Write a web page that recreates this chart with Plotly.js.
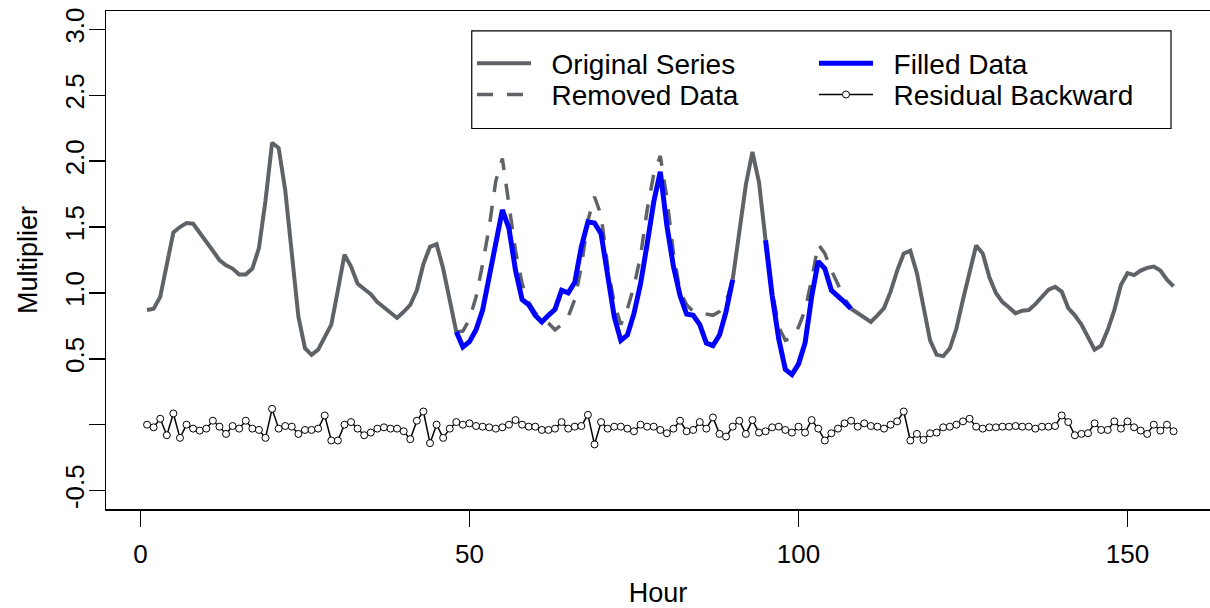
<!DOCTYPE html>
<html>
<head>
<meta charset="utf-8">
<script src="https://cdn.plot.ly/plotly-3.0.1.min.js"></script>
<style>html,body{margin:0;padding:0;background:#fff;}#chart{width:1210px;height:608px;}</style>
</head>
<body>
<div id="chart"></div>
<script>
// Hour index (x categories)
const hours = [1,2,3,4,5,6,7,8,9,10,11,12,13,14,15,16,17,18,19,20,21,22,23,24,25,26,27,28,29,30,
31,32,33,34,35,36,37,38,39,40,41,42,43,44,45,46,47,48,49,50,51,52,53,54,55,56,57,58,59,60,
61,62,63,64,65,66,67,68,69,70,71,72,73,74,75,76,77,78,79,80,81,82,83,84,85,86,87,88,89,90,
91,92,93,94,95,96,97,98,99,100,101,102,103,104,105,106,107,108,109,110,111,112,113,114,115,116,117,118,119,120,
121,122,123,124,125,126,127,128,129,130,131,132,133,134,135,136,137,138,139,140,141,142,143,144,145,146,147,148,149,150,
151,152,153,154,155,156,157];

// Original series (kept part; null where data was removed)
const originalValues = [
0.87,0.88,0.97,1.22,1.46,1.50,1.53,1.525,1.46,1.395,
1.32,1.25,1.21,1.185,1.14,1.14,1.185,1.34,1.70,2.14,
2.10,1.78,1.32,0.82,0.58,0.53,0.57,0.67,0.76,1.02,
1.29,1.20,1.07,1.03,0.99,0.93,0.89,0.85,0.81,0.857,
0.91,1.02,1.22,1.35,1.37,1.185,0.93,0.705,null,null,
null,null,null,null,null,null,null,null,null,null,
null,null,null,null,null,null,null,null,null,null,
null,null,null,null,null,null,null,null,null,null,
null,null,null,null,null,null,null,null,null,1.10,
1.48,1.82,2.07,1.84,1.40,null,null,null,null,null,
null,null,null,null,null,null,null,0.88,0.845,0.81,
0.78,0.83,0.885,1.01,1.17,1.30,1.32,1.15,0.90,0.64,
0.53,0.52,0.58,0.73,0.95,1.17,1.36,1.30,1.12,1.00,
0.93,0.89,0.845,0.865,0.87,0.915,0.965,1.025,1.046,1.01,
0.885,0.83,0.76,0.66,0.57,0.60,0.72,0.87,1.06,1.15,
1.135,1.17,1.19,1.20,1.17,1.10,1.05];

// Removed (true) data in the gaps
const removedValues = [
null,null,null,null,null,null,null,null,null,null,
null,null,null,null,null,null,null,null,null,null,
null,null,null,null,null,null,null,null,null,null,
null,null,null,null,null,null,null,null,null,null,
null,null,null,null,null,null,null,0.705,0.71,0.80,
0.97,1.22,1.50,1.85,2.02,1.67,1.32,1.07,0.93,0.85,
0.80,0.77,0.72,0.76,0.82,0.95,1.20,1.55,1.73,1.59,
1.20,0.92,0.76,0.88,1.05,1.28,1.63,1.90,2.04,1.72,
1.30,1.01,0.91,0.86,0.85,0.84,0.83,0.86,0.93,1.10,
null,null,null,null,1.40,1.02,0.74,0.64,0.66,0.74,
0.87,1.10,1.37,1.30,1.17,1.07,0.96,0.88,null,null,
null,null,null,null,null,null,null,null,null,null,
null,null,null,null,null,null,null,null,null,null,
null,null,null,null,null,null,null,null,null,null,
null,null,null,null,null,null,null,null,null,null,
null,null,null,null,null,null,null];

// Filled (imputed) data in the gaps
const filledValues = [
null,null,null,null,null,null,null,null,null,null,
null,null,null,null,null,null,null,null,null,null,
null,null,null,null,null,null,null,null,null,null,
null,null,null,null,null,null,null,null,null,null,
null,null,null,null,null,null,null,0.705,0.59,0.63,
0.72,0.87,1.12,1.40,1.63,1.49,1.17,0.95,0.91,0.83,
0.78,0.83,0.875,1.02,1.00,1.08,1.35,1.54,1.53,1.45,
1.15,0.82,0.64,0.68,0.845,1.07,1.37,1.69,1.92,1.51,
1.20,0.98,0.84,0.83,0.76,0.62,0.60,0.68,0.86,1.10,
null,null,null,null,1.40,0.98,0.65,0.42,0.38,0.46,
0.62,0.97,1.24,1.185,1.02,0.98,0.93,0.88,null,null,
null,null,null,null,null,null,null,null,null,null,
null,null,null,null,null,null,null,null,null,null,
null,null,null,null,null,null,null,null,null,null,
null,null,null,null,null,null,null,null,null,null,
null,null,null,null,null,null,null];

// Residual backward
const residualValues = [
0.0,-0.02,0.045,-0.08,0.085,-0.10,0.0,-0.03,-0.045,-0.03,
0.03,-0.015,-0.07,-0.01,-0.03,0.03,-0.03,-0.04,-0.10,0.12,
-0.03,-0.01,-0.015,-0.07,-0.04,-0.04,-0.03,0.07,-0.12,-0.12,
0.0,0.02,-0.03,-0.08,-0.06,-0.03,-0.02,-0.03,-0.03,-0.05,
-0.11,0.03,0.10,-0.14,0.0,-0.10,-0.03,0.02,0.0,0.01,
-0.01,-0.015,-0.02,-0.03,-0.02,0.0,0.035,0.0,-0.015,-0.015,
-0.04,-0.04,-0.03,0.02,-0.03,-0.015,-0.01,0.075,-0.15,0.02,
-0.03,-0.015,-0.015,-0.03,-0.05,0.0,-0.015,-0.015,-0.04,-0.065,
-0.03,0.03,-0.05,-0.04,0.02,-0.03,0.055,-0.07,-0.09,-0.015,
0.03,-0.07,0.035,-0.06,-0.05,-0.02,-0.015,-0.04,-0.06,-0.015,
-0.06,0.035,-0.03,-0.12,-0.065,-0.03,0.01,0.03,-0.015,0.01,
-0.01,-0.015,-0.03,0.0,0.025,0.10,-0.12,-0.07,-0.115,-0.065,
-0.06,-0.02,-0.015,0.0,0.025,0.045,-0.015,-0.03,-0.02,-0.02,
-0.015,-0.015,-0.01,-0.015,-0.015,-0.03,-0.015,-0.015,-0.01,0.07,
0.02,-0.08,-0.07,-0.065,0.01,-0.04,-0.04,0.025,-0.03,0.025,
-0.02,-0.045,-0.07,0.0,-0.045,0.0,-0.05];

const seriesNames = ['Original Series', 'Removed Data', 'Filled Data', 'Residual Backward'];
const xTickVals = [0, 50, 100, 150];
const yTickVals = [-0.5, 0, 0.5, 1, 1.5, 2, 2.5, 3];
const yTickText = ['-0.5', '', '0.5', '1.0', '1.5', '2.0', '2.5', '3.0'];

const GRAY = '#5f6368';
const FONT = '"Liberation Sans", Arial, sans-serif';
const pad = '\u00a0\u00a0';

const traces = [
  {x: hours, y: originalValues, type: 'scatter', mode: 'lines', name: pad + seriesNames[0],
   line: {color: GRAY, width: 4}, legend: 'legend', hoverinfo: 'skip'},
  {x: hours, y: removedValues, type: 'scatter', mode: 'lines', name: pad + seriesNames[1],
   line: {color: GRAY, width: 3.5, dash: '16px,14px'}, legend: 'legend2', hoverinfo: 'skip'},
  {x: hours, y: filledValues, type: 'scatter', mode: 'lines', name: pad + seriesNames[2],
   line: {color: '#0000ff', width: 5}, legend: 'legend3', hoverinfo: 'skip'},
  {x: hours, y: residualValues, type: 'scatter', mode: 'lines+markers', name: pad + seriesNames[3],
   line: {color: '#000000', width: 1.5},
   marker: {symbol: 'circle', size: 7, color: '#ffffff', line: {color: '#000000', width: 1}},
   legend: 'legend4', hoverinfo: 'skip'}
];

const legendBase = {
  font: {family: FONT, size: 28, color: '#000'},
  bgcolor: 'rgba(0,0,0,0)', borderwidth: 0, itemwidth: 54,
  orientation: 'v', xanchor: 'left', yanchor: 'middle',
  itemclick: false, itemdoubleclick: false
};

const layout = {
  width: 1210, height: 608,
  margin: {l: 106, r: 0, t: 11, b: 99, pad: 0},
  paper_bgcolor: '#ffffff', plot_bgcolor: '#ffffff',
  font: {family: FONT, size: 26, color: '#000'},
  showlegend: true,
  legend:  Object.assign({}, legendBase, {x: 0.3315, y: 0.8944}),
  legend2: Object.assign({}, legendBase, {x: 0.3315, y: 0.8317}),
  legend3: Object.assign({}, legendBase, {x: 0.6413, y: 0.8944}),
  legend4: Object.assign({}, legendBase, {x: 0.6413, y: 0.8317}),
  xaxis: {
    range: [-5.24, 162.54], tickvals: xTickVals, ticktext: xTickVals.map(String),
    ticks: 'outside', ticklen: 16, tickwidth: 1.5, tickcolor: '#000',
    ticklabelstandoff: 5,
    showline: true, linecolor: '#000', linewidth: 1.5, mirror: true,
    showgrid: false, zeroline: false,
    tickfont: {family: FONT, size: 26, color: '#000'},
    title: {text: 'Hour', font: {family: FONT, size: 27, color: '#000'}, standoff: 16}
  },
  yaxis: {
    range: [-0.64, 3.14], tickvals: yTickVals, ticktext: yTickText, tickangle: -90,
    ticks: 'outside', ticklen: 16, tickwidth: 1.5, tickcolor: '#000',
    ticklabelstandoff: -6,
    showline: true, linecolor: '#000', linewidth: 1.5, mirror: false,
    showgrid: false, zeroline: false,
    tickfont: {family: FONT, size: 26, color: '#000'},
    title: {text: 'Multiplier', font: {family: FONT, size: 27, color: '#000'}, standoff: 14}
  },
  shapes: [{
    type: 'rect', xref: 'paper', yref: 'paper',
    x0: 0.3313, x1: 0.9647, y0: 0.7641, y1: 0.9599,
    line: {color: '#000', width: 1.2}, fillcolor: '#ffffff', layer: 'below'
  }]
};

Plotly.newPlot('chart', traces, layout, {staticPlot: true, displayModeBar: false});
</script>
</body>
</html>
